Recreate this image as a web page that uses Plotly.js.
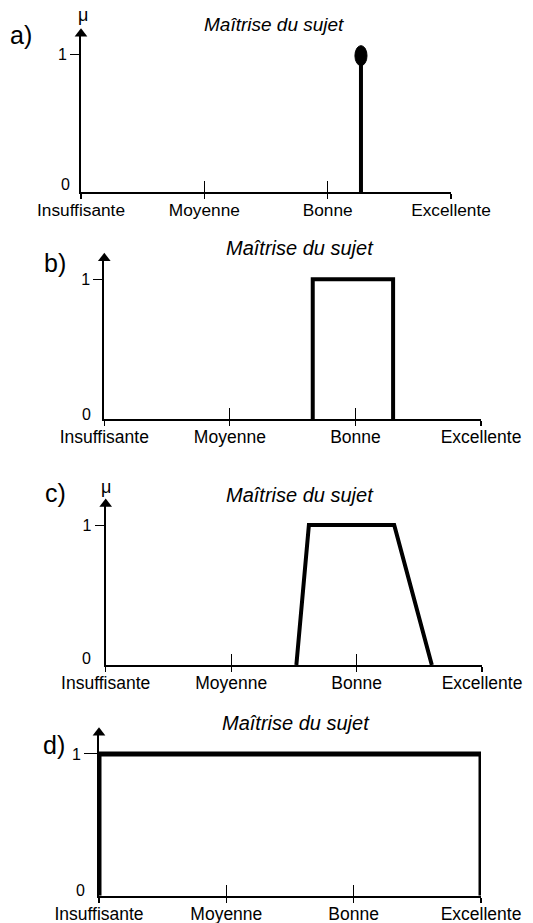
<!DOCTYPE html>
<html><head><meta charset="utf-8">
<script src="https://cdn.plot.ly/plotly-3.0.1.min.js"></script>
<style>html,body{margin:0;padding:0;background:#fff}#chart{width:533px;height:923px}</style>
</head><body><div id="chart"></div>
<script>
// ---- data ----
const categories = ['Insuffisante', 'Moyenne', 'Bonne', 'Excellente'];
const categoryPos = [0, 1, 2, 3];
const chartTitle = 'Maîtrise du sujet';
const panelLabels = ['a)', 'b)', 'c)', 'd)'];
const muLabel = 'μ';
const aX = [2.27, 2.27];           // singleton
const aY = [0, 1];
const bX = [1.66, 1.66, 2.30, 2.30]; // interval
const bY = [0, 1, 1, 0];
const cX = [1.52, 1.62, 2.30, 2.60]; // trapezoid
const cY = [0, 1, 1, 0];
const dX = [0, 0, 3, 3];           // total ignorance
const dY = [0, 1, 1, 0];
const yTickVals = [1];
const yTickText = ['1'];

// ---- geometry (pixels) ----
const W = 533, H = 923, yTop = 1.15;
const geo = [
  {x0: 81, x1: 451, y0: 192, y1: 54.3, tf: 17.3, ylen: 9, lab: [20.5, 35], mu: [83, 15], zero: [65, 185], title: [274, 25], ts: 19},
  {x0: 104.3, x1: 481, y0: 419.3, y1: 279.3, tf: 17.5, ylen: 9, lab: [55, 263], mu: null, zero: [86, 414], title: [299.5, 248], ts: 20},
  {x0: 105.7, x1: 482, y0: 665, y1: 525, tf: 17.5, ylen: 9, lab: [55, 493], mu: [105.7, 487], zero: [86, 658], title: [300, 495], ts: 20},
  {x0: 99, x1: 481, y0: 895.7, y1: 754, tf: 17.5, ylen: 13, lab: [54, 745], mu: null, zero: [80, 890], title: [296, 723], ts: 20}
];
const series = [[aX, aY], [bX, bY], [cX, cY], [dX, dY]];
const FONT = 'Liberation Sans, Arial, sans-serif';
const px = v => v / W, py = v => 1 - v / H;

const data = [], annotations = [], shapes = [];
const layout = {
  width: W, height: H, margin: {l: 0, r: 0, t: 0, b: 0},
  paper_bgcolor: '#fff', plot_bgcolor: 'rgba(0,0,0,0)', showlegend: false,
  font: {family: FONT, color: '#000'}
};

geo.forEach((g, i) => {
  const n = i + 1, xa = 'x' + (n === 1 ? '' : n), ya = 'y' + (n === 1 ? '' : n);
  const xo = 'x' + (n + 4);
  const topPx = g.y0 - yTop * (g.y0 - g.y1);
  const xdom = [px(g.x0), px(g.x1)], ydom = [py(g.y0), py(topPx)];
  layout['xaxis' + (n === 1 ? '' : n)] = {
    domain: xdom, range: [0, 3], anchor: ya, showgrid: false, zeroline: false,
    showline: true, linewidth: 2, linecolor: '#000',
    tickmode: 'array', tickvals: categoryPos, ticktext: categories,
    ticks: 'outside', ticklen: 5, tickwidth: 1.2, tickcolor: '#000', ticklabelstandoff: -4,
    tickfont: {size: g.tf, family: FONT, color: '#000'}, fixedrange: true
  };
  layout['xaxis' + (n + 4)] = {
    domain: xdom, range: [0, 3], anchor: ya, overlaying: xa, showgrid: false, zeroline: false,
    showline: false, tickmode: 'array', tickvals: categoryPos.slice(1), showticklabels: false,
    ticks: 'inside', ticklen: 11, tickwidth: 1.2, tickcolor: '#000'
  };
  layout['yaxis' + (n === 1 ? '' : n)] = {
    domain: ydom, range: [0, yTop], anchor: xa, showgrid: false, zeroline: false,
    showline: true, linewidth: 2, linecolor: '#000',
    tickmode: 'array', tickvals: yTickVals, ticktext: yTickText,
    ticks: 'outside', ticklen: g.ylen, tickwidth: 1, tickcolor: '#000',
    tickfont: {size: 16, family: FONT, color: '#000'}, fixedrange: true
  };
  // dummy trace for overlay axis
  data.push({x: [0], y: [0], xaxis: xo, yaxis: ya, mode: 'markers', marker: {opacity: 0}, hoverinfo: 'skip'});
  // membership function
  const [sx, sy] = series[i];
  data.push({x: sx, y: sy, xaxis: xa, yaxis: ya, mode: 'lines', cliponaxis: false,
    line: {color: '#000', width: i === 3 ? 5 : 4}});
  // arrow head on y axis
  data.push({x: [0], y: [yTop], xaxis: xa, yaxis: ya, mode: 'markers', cliponaxis: false,
    marker: {symbol: 'triangle-up', size: 11, color: '#000'}});
  // title & labels
  annotations.push({text: '<i>' + chartTitle + '</i>', xref: 'paper', yref: 'paper', x: px(g.title[0]), y: py(g.title[1]),
    xanchor: 'center', yanchor: 'middle', showarrow: false, font: {size: g.ts, family: FONT}});
  annotations.push({text: panelLabels[i], xref: 'paper', yref: 'paper', x: px(g.lab[0]), y: py(g.lab[1]),
    xanchor: 'center', yanchor: 'middle', showarrow: false, font: {size: 25, family: FONT}});
  annotations.push({text: '0', xref: 'paper', yref: 'paper', x: px(g.zero[0]), y: py(g.zero[1]),
    xanchor: 'center', yanchor: 'middle', showarrow: false, font: {size: 16, family: FONT}});
  if (g.mu) annotations.push({text: muLabel, xref: 'paper', yref: 'paper', x: px(g.mu[0]), y: py(g.mu[1]),
    xanchor: 'center', yanchor: 'middle', showarrow: false, font: {size: 18, family: FONT}});
});

// singleton marker (ellipse) at top of stem in panel a
const ew = 0.049, eh = 0.073;
shapes.push({type: 'circle', xref: 'x', yref: 'y', x0: aX[1] - ew, x1: aX[1] + ew,
  y0: aY[1] - 0.01 - eh, y1: aY[1] - 0.01 + eh, fillcolor: '#000', line: {color: '#000', width: 1}});

layout.annotations = annotations;
layout.shapes = shapes;
Plotly.newPlot('chart', data, layout, {staticPlot: true});
</script></body></html>
